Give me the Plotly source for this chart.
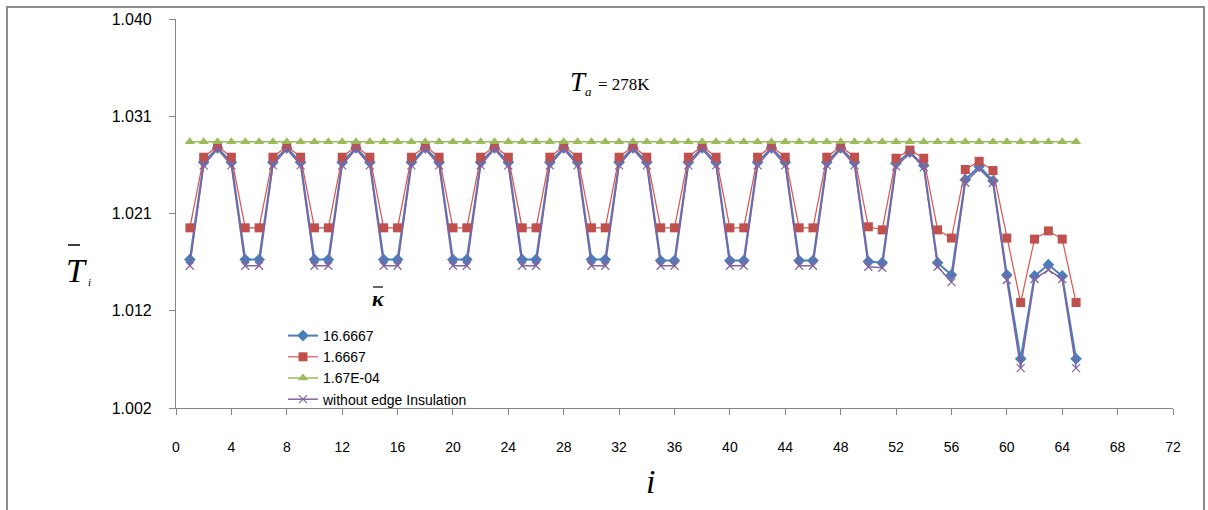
import plotly.graph_objects as go

# ---------------- data ----------------
idx = list(range(1, 66))

k_16_6667 = [1.0165, 1.0260, 1.0274, 1.0260, 1.0165, 1.0165, 1.0260, 1.0274, 1.0260, 1.0165,
             1.0165, 1.0260, 1.0274, 1.0260, 1.0165, 1.0165, 1.0260, 1.0274, 1.0260, 1.0165,
             1.0165, 1.0260, 1.0274, 1.0260, 1.0165, 1.0165, 1.0260, 1.0274, 1.0260, 1.0165,
             1.0165, 1.0260, 1.0274, 1.0260, 1.0164, 1.0164, 1.0260, 1.0274, 1.0260, 1.0164,
             1.0164, 1.0260, 1.0274, 1.0260, 1.0164, 1.0164, 1.0260, 1.0274, 1.0260, 1.0163,
             1.0162, 1.0259, 1.0270, 1.0257, 1.0162, 1.0150, 1.0243, 1.0256, 1.0242, 1.0150,
             1.0068, 1.0149, 1.0160, 1.0149, 1.0068]

k_1_6667 = [1.0196, 1.0265, 1.0276, 1.0265, 1.0196, 1.0196, 1.0265, 1.0276, 1.0265, 1.0196,
            1.0196, 1.0265, 1.0276, 1.0265, 1.0196, 1.0196, 1.0265, 1.0276, 1.0265, 1.0196,
            1.0196, 1.0265, 1.0276, 1.0265, 1.0196, 1.0196, 1.0265, 1.0276, 1.0265, 1.0196,
            1.0196, 1.0265, 1.0276, 1.0265, 1.0196, 1.0196, 1.0265, 1.0276, 1.0265, 1.0196,
            1.0196, 1.0265, 1.0276, 1.0265, 1.0196, 1.0196, 1.0265, 1.0276, 1.0265, 1.0197,
            1.0194, 1.0264, 1.0272, 1.0264, 1.0194, 1.0186, 1.0253, 1.0261, 1.0252, 1.0186,
            1.0123, 1.0185, 1.0193, 1.0185, 1.0123]

k_1_67e_04 = [1.0280] * 65

no_insulation = [1.0159, 1.0257, 1.0273, 1.0257, 1.0159, 1.0159, 1.0257, 1.0273, 1.0257, 1.0159,
                 1.0159, 1.0257, 1.0273, 1.0257, 1.0159, 1.0159, 1.0257, 1.0273, 1.0257, 1.0159,
                 1.0159, 1.0257, 1.0273, 1.0257, 1.0159, 1.0159, 1.0257, 1.0273, 1.0257, 1.0159,
                 1.0159, 1.0257, 1.0273, 1.0257, 1.0159, 1.0159, 1.0257, 1.0273, 1.0257, 1.0159,
                 1.0159, 1.0257, 1.0273, 1.0257, 1.0159, 1.0159, 1.0257, 1.0273, 1.0257, 1.0158,
                 1.0157, 1.0256, 1.0269, 1.0255, 1.0158, 1.0143, 1.0240, 1.0254, 1.0240, 1.0145,
                 1.0059, 1.0146, 1.0155, 1.0146, 1.0059]

series_names = ["16.6667", "1.6667", "1.67E-04", "without edge Insulation"]

y_tickvals = [1.002, 1.0115, 1.021, 1.0305, 1.040]
y_ticktext = ["1.002", "1.012", "1.021", "1.031", "1.040"]
x_tickvals = list(range(0, 73, 4))

# ---------------- figure ----------------
W, H = 1208, 510
L, R, T, B = 176, 35, 19, 102
pw, ph = W - L - R, H - T - B


def px(x):
    return (x - L) / pw


def py(y):
    return (H - B - y) / ph


fig = go.Figure()
fig.add_trace(go.Scatter(x=idx, y=k_16_6667, name=series_names[0], mode="lines+markers",
                         line=dict(color="#4A7EBB", width=2),
                         marker=dict(symbol="diamond", size=9, color="#4A7EBB")))
fig.add_trace(go.Scatter(x=idx, y=k_1_6667, name=series_names[1], mode="lines+markers",
                         line=dict(color="#D9534F", width=1.2),
                         marker=dict(symbol="square", size=9, color="#C0504D")))
fig.add_trace(go.Scatter(x=idx, y=k_1_67e_04, name=series_names[2], mode="lines+markers",
                         line=dict(color="#9BBB59", width=1.5),
                         marker=dict(symbol="triangle-up", size=9, color="#9BBB59")))
fig.add_trace(go.Scatter(x=idx, y=no_insulation, name=series_names[3], mode="lines+markers",
                         line=dict(color="#8064A2", width=1.5),
                         marker=dict(symbol="x-thin", size=8, color="#8064A2",
                                     line=dict(color="#8064A2", width=1.2))))

axis_color = "#868686"
fig.update_layout(
    width=W, height=H,
    margin=dict(l=L, r=R, t=T, b=B),
    paper_bgcolor="white", plot_bgcolor="white",
    font=dict(family="Liberation Sans, Arial, sans-serif", color="black"),
    showlegend=True,
    legend=dict(x=px(283), y=py(320), xanchor="left", yanchor="top",
                bgcolor="rgba(0,0,0,0)", font=dict(size=14, family="Liberation Sans, Arial"),
                tracegroupgap=0, itemwidth=30),
    xaxis=dict(range=[0, 72], tickvals=x_tickvals, showgrid=False, zeroline=False,
               showline=True, linecolor=axis_color, linewidth=1.2,
               ticks="outside", ticklen=6, tickcolor=axis_color,
               ticklabelstandoff=20,
               tickfont=dict(size=14, family="Liberation Sans Narrow, Liberation Sans, Arial")),
    yaxis=dict(range=[1.002, 1.040], tickvals=y_tickvals, ticktext=y_ticktext,
               showgrid=False, zeroline=False,
               showline=True, linecolor=axis_color, linewidth=1.2,
               ticks="outside", ticklen=6, tickcolor=axis_color,
               ticklabelstandoff=14,
               tickfont=dict(size=16, family="Liberation Sans, Arial")),
)

serif = "Liberation Serif, Times New Roman, serif"
ann = [
    dict(x=px(76), y=py(270), text="<i>T</i>", font=dict(size=34, family=serif)),
    dict(x=px(89), y=py(282), text="<i>i</i>", font=dict(size=11, family=serif)),
    dict(x=px(650), y=py(481), text="<i>i</i>", font=dict(size=34, family=serif)),
    dict(x=px(578), y=py(82), text="<i>T</i>", font=dict(size=27, family=serif)),
    dict(x=px(588), y=py(92), text="<i>a</i>", font=dict(size=13, family=serif)),
    dict(x=px(624), y=py(84), text="= 278K", font=dict(size=17, family=serif)),
    dict(x=px(378), y=py(298), text="<b><i>κ</i></b>", font=dict(size=22, family=serif)),
]
for a in ann:
    a.update(xref="paper", yref="paper", showarrow=False, xanchor="center", yanchor="middle")
fig.update_layout(annotations=ann)

shapes = [
    dict(type="rect", xref="paper", yref="paper", x0=px(7), x1=px(1204), y0=py(520), y1=py(7),
         line=dict(color="#8C8C8C", width=2), fillcolor="rgba(0,0,0,0)", layer="below"),
    dict(type="line", xref="paper", yref="paper", x0=px(68), x1=px(80), y0=py(245), y1=py(245),
         line=dict(color="black", width=1.5)),
    dict(type="line", xref="paper", yref="paper", x0=px(373), x1=px(383), y0=py(287), y1=py(287),
         line=dict(color="black", width=1.2)),
]
fig.update_layout(shapes=shapes)

fig.write_html("out.html")
